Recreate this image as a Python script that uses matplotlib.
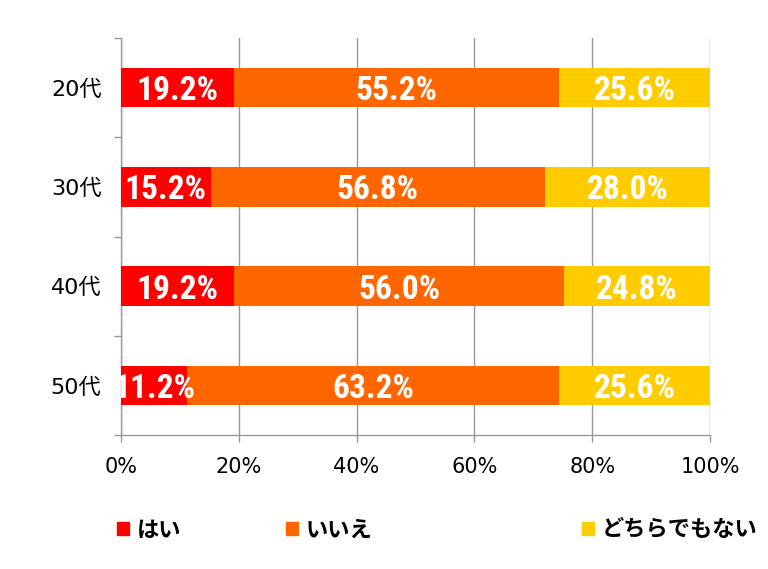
import matplotlib.pyplot as plt
from matplotlib.patches import Patch

# data (percent)
ages = ['20代', '30代', '40代', '50代']
yes = [19.2, 15.2, 19.2, 11.2]
no = [55.2, 56.8, 56.0, 63.2]
neither = [25.6, 28.0, 24.8, 25.6]
series_names = ['はい', 'いいえ', 'どちらでもない']
colors = ['#FF0000', '#FF6600', '#FFCC00']
xticks = [0, 20, 40, 60, 80, 100]

jp = ['Noto Sans CJK JP', 'DejaVu Sans']
latin = ['DejaVu Sans', 'Noto Sans CJK JP']
cond = ['Roboto Condensed', 'DejaVu Sans']

fig = plt.figure(figsize=(7.68, 5.69), dpi=100)
ax = fig.add_axes([121 / 768, 1 - 435 / 569, 589 / 768, 397 / 569])

ypos = list(range(len(ages)))
left = [0] * len(ages)
for vals, col in zip([yes, no, neither], colors):
    bars = ax.barh(ypos, vals, left=left, height=0.4, color=col, zorder=3)
    for b, v in zip(bars, vals):
        ax.text(b.get_x() + b.get_width() / 2, b.get_y() + b.get_height() / 2,
                f'{v:.1f}%', ha='center', va='center_baseline', color='white',
                fontsize=24, fontweight='bold', family=cond, zorder=4)
    left = [l + v for l, v in zip(left, vals)]

ax.set_xlim(0, 100)
ax.set_ylim(len(ages) - 0.5, -0.5)
ax.set_xticks(xticks)
ax.set_xticklabels([f'{t}%' for t in xticks], fontsize=15, family=latin)
ax.set_yticks(ypos)
ax.set_yticklabels(ages, fontsize=16, family=latin)
ax.set_yticks([i - 0.5 for i in range(len(ages) + 1)], minor=True)
ax.tick_params(axis='y', which='major', length=0, pad=14)
ax.tick_params(axis='y', which='minor', length=5, color='#999999', width=1)
ax.tick_params(axis='x', length=5, color='#999999', width=1, pad=11)
ax.grid(axis='x', color='#999999', linewidth=1, zorder=0)
for s in ['top', 'right']:
    ax.spines[s].set_visible(False)
for s in ['left', 'bottom']:
    ax.spines[s].set_color('#999999')
    ax.spines[s].set_linewidth(1)

# legend entries placed like the original
legend_x = [117, 286, 582]
for name, col, x in zip(series_names, colors, legend_x):
    fig.legend(handles=[Patch(color=col, label=name)], loc='center left',
               bbox_to_anchor=(x / 768, 1 - 530 / 569), frameon=False,
               handlelength=0.55, handleheight=0.55, handletextpad=0.35,
               borderaxespad=0, borderpad=0,
               prop={'family': jp, 'size': 16, 'weight': 'bold'})

fig.savefig('out.png', dpi=100)
